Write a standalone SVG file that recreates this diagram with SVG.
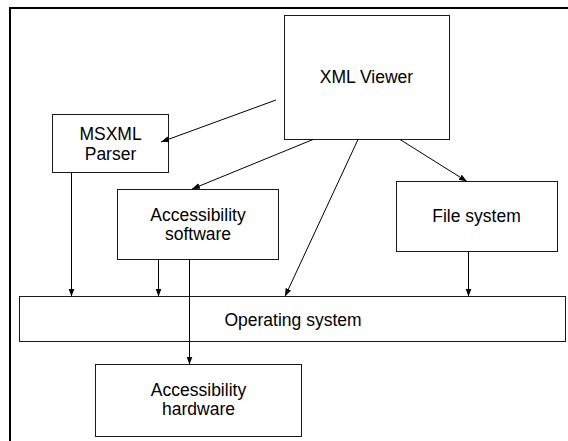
<svg xmlns="http://www.w3.org/2000/svg" width="568" height="441" viewBox="0 0 568 441">
  <style>
    .box { fill: #ffffff; stroke: #1a1a1a; stroke-width: 1; }
    .lbl { font-family: "Liberation Sans", Arial, sans-serif; font-size: 17.5px; fill: #000000; text-anchor: middle; }
    .conn { stroke: #000000; stroke-width: 1; fill: none; marker-end: url(#arrow); }
    .frame { stroke: #000000; stroke-width: 2; fill: none; }
  </style>
  <defs>
    <marker id="arrow" markerUnits="userSpaceOnUse" markerWidth="9" markerHeight="7" refX="8" refY="3" orient="auto">
      <path d="M0,0 L8,3 L0,6 z" fill="#000000"/>
    </marker>
  </defs>

  <rect width="568" height="441" fill="#ffffff"/>

  <!-- outer frame: top and left edges -->
  <line class="frame" x1="9" y1="8" x2="568" y2="8"/>
  <line class="frame" x1="10" y1="7" x2="10" y2="441"/>

  <g id="xml-viewer">
    <rect class="box" x="284.5" y="15.5" width="165" height="124"/>
    <text class="lbl" x="366.5" y="82.5">XML Viewer</text>
  </g>

  <g id="msxml-parser">
    <rect class="box" x="52.5" y="114.5" width="116" height="58"/>
    <text class="lbl" x="110.5" y="140">MSXML</text>
    <text class="lbl" x="110.5" y="159.5">Parser</text>
  </g>

  <g id="accessibility-software">
    <rect class="box" x="117.5" y="189.5" width="161" height="70"/>
    <text class="lbl" x="198" y="221">Accessibility</text>
    <text class="lbl" x="198" y="239.5">software</text>
  </g>

  <g id="file-system">
    <rect class="box" x="396.5" y="181.5" width="161" height="70"/>
    <text class="lbl" x="476.5" y="221.5">File system</text>
  </g>

  <g id="operating-system">
    <rect class="box" x="19.5" y="296.5" width="546" height="45"/>
    <text class="lbl" x="293" y="325.5">Operating system</text>
  </g>

  <g id="accessibility-hardware">
    <rect class="box" x="95.5" y="364.5" width="206" height="72"/>
    <text class="lbl" x="198.5" y="396">Accessibility</text>
    <text class="lbl" x="198.5" y="415">hardware</text>
  </g>

  <g id="connectors">
    <line class="conn" x1="276" y1="100" x2="161" y2="142"/>
    <line class="conn" x1="313" y1="139.5" x2="192" y2="189"/>
    <line class="conn" x1="358" y1="139.5" x2="285" y2="296.5"/>
    <line class="conn" x1="400" y1="139.5" x2="467" y2="181.5"/>
    <line class="conn" x1="71.5" y1="172.5" x2="71.5" y2="296.5"/>
    <line class="conn" x1="158.5" y1="259.5" x2="158.5" y2="296.5"/>
    <line class="conn" x1="189.5" y1="259.5" x2="189.5" y2="364.5"/>
    <line class="conn" x1="468.5" y1="251.5" x2="468.5" y2="296.5"/>
  </g>
</svg>
